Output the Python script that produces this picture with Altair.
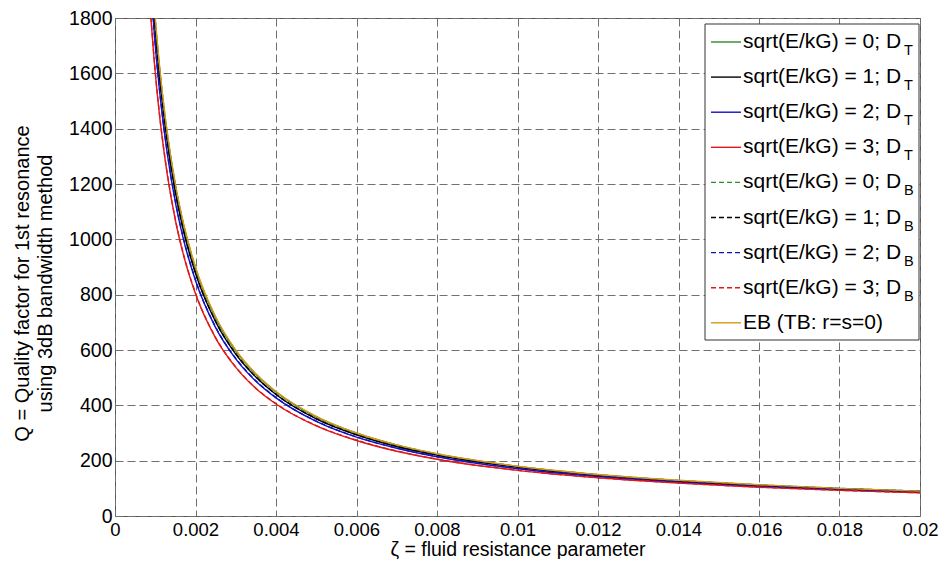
import altair as alt
import pandas as pd

# ---- data ----
zeta = [0.00085, 0.001, 0.0011, 0.0012, 0.0013, 0.0015, 0.0017, 0.002, 0.0025, 0.003, 0.0035,
        0.004, 0.005, 0.006, 0.007, 0.008, 0.01, 0.012, 0.014, 0.016, 0.018, 0.02]

q_T0 = [2107, 1791, 1628, 1493, 1378, 1194, 1054, 896, 716, 597, 512, 448, 358, 299, 256, 224, 179, 149, 128, 112, 99.5, 89.5]
q_T1 = [2065, 1755, 1595, 1462, 1350, 1170, 1032, 877, 702, 585, 502, 439, 351, 293, 251, 220, 176, 147, 126, 110, 98, 88]
q_T2 = [2002, 1701, 1546, 1418, 1309, 1134, 1001, 851, 681, 568, 487, 427, 342, 285, 245, 214, 171, 143, 123, 107.5, 95.5, 86]
q_T3 = [1885, 1602, 1456, 1336, 1233, 1069, 944, 803, 643, 537, 461, 405, 326, 273, 234, 205, 165, 138, 119, 104, 92.5, 83.5]

q_B0 = [2112, 1795, 1631, 1496, 1381, 1197, 1056, 898, 718, 598, 513, 449, 359, 299.5, 256.5, 224.5, 179.5, 149.5, 128.5, 112.5, 100, 90]
q_B1 = [2070, 1759, 1599, 1466, 1353, 1173, 1035, 880, 704, 587, 503, 440, 352, 294, 252, 220.5, 176.5, 147.5, 126.5, 110.5, 98.5, 88.5]
q_B2 = [2008, 1706, 1551, 1422, 1313, 1138, 1004, 854, 683, 570, 489, 428, 343, 286, 245.5, 215, 172, 143.5, 123.5, 108, 96, 86.5]
q_B3 = [1890, 1606, 1460, 1340, 1237, 1072, 947, 806, 645, 539, 462, 406, 327, 274, 235, 205.5, 165.5, 138.5, 119.5, 104.5, 93, 84]

q_EB = [2118, 1800, 1636, 1500, 1385, 1200, 1059, 900, 720, 600, 514, 450, 360, 300, 257, 225, 180, 150, 129, 113, 100, 90]

series_main = ["sqrt(E/kG) = 0; D", "sqrt(E/kG) = 1; D", "sqrt(E/kG) = 2; D", "sqrt(E/kG) = 3; D",
               "sqrt(E/kG) = 0; D", "sqrt(E/kG) = 1; D", "sqrt(E/kG) = 2; D", "sqrt(E/kG) = 3; D",
               "EB (TB: r=s=0)"]
series_sub = ["T", "T", "T", "T", "B", "B", "B", "B", ""]
series_colors = ["#2a8c2a", "#000000", "#1010c8", "#e01818",
                 "#2a8c2a", "#000000", "#1010c8", "#e01818", "#d8981a"]
series_dashed = [False, False, False, False, True, True, True, True, False]
series_values = [q_T0, q_T1, q_T2, q_T3, q_B0, q_B1, q_B2, q_B3, q_EB]

x_ticks = [0, 0.002, 0.004, 0.006, 0.008, 0.01, 0.012, 0.014, 0.016, 0.018, 0.02]
y_ticks = [0, 200, 400, 600, 800, 1000, 1200, 1400, 1600, 1800]

FONT = "Liberation Sans"
W, H = 805, 498

x_scale = alt.Scale(domain=[0, 0.02], nice=False, zero=False)
y_scale = alt.Scale(domain=[0, 1800], nice=False)

x_axis = alt.Axis(values=x_ticks, labelExpr="format(datum.value, '~g')", grid=True,
                  gridDash=[8, 4], gridColor="#707070", gridWidth=1, gridOpacity=1,
                  domain=False, ticks=False, labelFont=FONT, labelFontSize=18.5,
                  labelColor="#000", labelPadding=4, title="ζ = fluid resistance parameter",
                  titleFont=FONT, titleFontSize=19.5, titleFontWeight="normal", titleColor="#000",
                  titleBaseline="alphabetic", titleY=39, labelFlush=False)
y_axis = alt.Axis(values=y_ticks, format="d", grid=True,
                  gridDash=[8, 4], gridColor="#707070", gridWidth=1, gridOpacity=1,
                  domain=False, ticks=False, labelFont=FONT, labelFontSize=19.5,
                  labelColor="#000", labelPadding=3,
                  title=["Q = Quality factor for 1st resonance", "using 3dB bandwidth method"],
                  titleFont=FONT, titleFontSize=20, titleFontWeight="normal", titleColor="#000",
                  titleX=-93, titleY=265, titleAngle=-90, titleAlign="center",
                  titleBaseline="middle", titleLineHeight=23, labelFlush=False)

layers = []
for i, vals in enumerate(series_values):
    df = pd.DataFrame({"zeta": zeta, "Q": vals})
    mk = dict(clip=True, strokeWidth=1.4, color=series_colors[i], interpolate="monotone")
    if series_dashed[i]:
        mk["strokeDash"] = [5, 3]
    enc = dict(x=alt.X("zeta:Q", scale=x_scale, axis=x_axis),
               y=alt.Y("Q:Q", scale=y_scale, axis=y_axis))
    layers.append(alt.Chart(df).mark_line(**mk).encode(**enc))

# ---- legend (drawn as marks inside the plot) ----
leg = pd.DataFrame({"row": list(range(len(series_main))), "label": series_main,
                    "sub": series_sub, "col": series_colors, "dashed": series_dashed})
base = alt.Chart(leg).transform_calculate(ly="24 + datum.row * 35.1")

box = alt.Chart(pd.DataFrame({"a": [0]})).mark_rect(fill="white", stroke="#333", strokeWidth=1).encode(
    x=alt.value(590), x2=alt.value(804), y=alt.value(6), y2=alt.value(322))
solid = base.transform_filter("!datum.dashed").mark_rule(strokeWidth=1.4).encode(
    x=alt.value(596), x2=alt.value(626), y=alt.Y("ly:Q", scale=None),
    color=alt.Color("col:N", scale=None))
dashed = base.transform_filter("datum.dashed").mark_rule(strokeWidth=1.4, strokeDash=[5, 3]).encode(
    x=alt.value(596), x2=alt.value(626), y=alt.Y("ly:Q", scale=None),
    color=alt.Color("col:N", scale=None))
labels = base.mark_text(font=FONT, fontSize=21, align="left", baseline="middle", color="#000").encode(
    x=alt.value(628), y=alt.Y("ly:Q", scale=None), text="label:N")
subs = base.mark_text(font=FONT, fontSize=14.5, align="left", baseline="middle", color="#000",
                      dy=9).encode(
    x=alt.value(628 + 161), y=alt.Y("ly:Q", scale=None), text="sub:N")

chart = alt.layer(*layers, box, solid, dashed, labels, subs).properties(
    width=W, height=H, autosize="none",
    padding={"left": 107, "top": 10, "right": 20, "bottom": 43},
).configure(background="white", view=alt.ViewConfig(stroke="#555", strokeWidth=1))

chart.save("out.html", embed_options={"renderer": "svg", "actions": False})
